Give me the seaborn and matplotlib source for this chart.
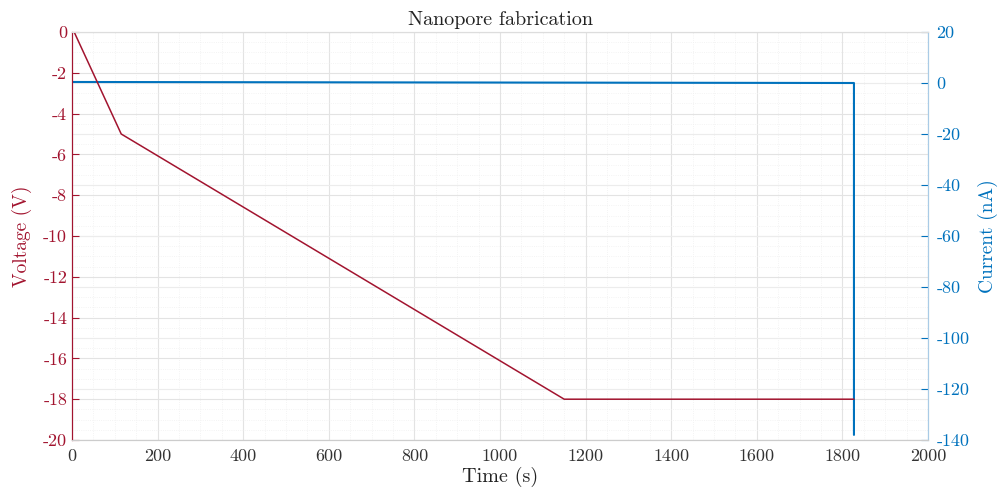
import matplotlib
matplotlib.use("Agg")
import matplotlib.pyplot as plt
import numpy as np
import pandas as pd
import seaborn as sns

sns.set_style("white")
plt.rcParams["font.family"] = ["cmr10", "DejaVu Serif"]
plt.rcParams["mathtext.fontset"] = "cm"
plt.rcParams["axes.unicode_minus"] = False

# voltage ramp
volt_time = [0, 5, 115, 1150, 1827]
volt_value = [0, 0, -5, -18, -18]

# current trace
curr_time = [0, 1826, 1827, 1827]
curr_value = [0.4, 0.0, 0.0, -138]

x_ticks = [0, 200, 400, 600, 800, 1000, 1200, 1400, 1600, 1800, 2000]
v_ticks = [0, -2, -4, -6, -8, -10, -12, -14, -16, -18, -20]
i_ticks = [20, 0, -20, -40, -60, -80, -100, -120, -140]

RED = "#A2142F"
BLUE = "#0072BD"

volt_df = pd.DataFrame({"time": volt_time, "voltage": volt_value})
curr_df = pd.DataFrame({"time": curr_time, "current": curr_value})

rect = [72 / 1002, 1 - 440 / 497, 856 / 1002, 408 / 497]
fig = plt.figure(figsize=(10.02, 4.97), dpi=100)

# background axes only for the grid, so no grid line crosses a data line
bg = fig.add_axes(rect)
ax1 = fig.add_axes(rect, sharex=bg)
ax2 = ax1.twinx()
bg.set_zorder(0)
ax2.set_zorder(1)
ax1.set_zorder(2)
ax1.patch.set_visible(False)
ax2.patch.set_visible(False)

sns.lineplot(data=volt_df, x="time", y="voltage", color=RED, lw=1.1, ax=ax1,
             sort=False, estimator=None)
sns.lineplot(data=curr_df, x="time", y="current", color=BLUE, lw=1.5, ax=ax2,
             sort=False, estimator=None)

ax1.set_xlim(0, 2000)
ax1.set_ylim(-20, 0)
bg.set_ylim(-20, 0)
ax2.set_ylim(-140, 20)

ax1.set_xticks(x_ticks)
ax1.set_xticklabels([str(t) for t in x_ticks], fontsize=13, color="#333333")
ax1.set_yticks(v_ticks)
ax1.set_yticklabels([str(t) for t in v_ticks], fontsize=13, color=RED)
ax2.set_yticks(i_ticks)
ax2.set_yticklabels([str(t) for t in i_ticks], fontsize=13, color=BLUE)

bg.set_yticks(v_ticks)
bg.set_xticks(np.arange(0, 2001, 50), minor=True)
bg.set_yticks(np.arange(-20, 0.1, 0.5), minor=True)
bg.grid(True, which="major", color="#e3e3e3", lw=0.8)
bg.grid(True, which="minor", color="#f0f0f0", lw=0.6, ls=":")
bg.tick_params(which="both", length=0, labelbottom=False, labelleft=False)
for s in bg.spines.values():
    s.set_visible(False)
ax2.grid(True, which="major", axis="y", color="#ececec", lw=0.8)

ax1.tick_params(axis="both", which="major", direction="in", length=5, width=0.8)
ax1.tick_params(axis="x", colors="#bbbbbb", labelcolor="#333333", pad=6)
ax1.tick_params(axis="y", colors=RED, labelcolor=RED)
ax2.tick_params(axis="y", direction="in", length=5, width=0.8, colors=BLUE,
                labelcolor=BLUE, pad=6)

for ax in (ax1, ax2):
    ax.spines["top"].set_color("#dddddd")
    ax.spines["bottom"].set_color("#cccccc")
    ax.spines["left"].set_color(RED)
    ax.spines["right"].set_color("#a9cbe6")
    for s in ax.spines.values():
        s.set_linewidth(0.8)

ax1.set_xlabel("Time (s)", fontsize=14.5, color="#222222", labelpad=2)
ax1.set_ylabel("Voltage (V)", fontsize=14, color=RED, labelpad=8)
ax2.set_ylabel("Current (nA)", fontsize=14, color=BLUE, labelpad=6)
ax1.set_title("Nanopore fabrication", fontsize=14.5, color="#222222", pad=5)

fig.savefig("out.png", dpi=100)
